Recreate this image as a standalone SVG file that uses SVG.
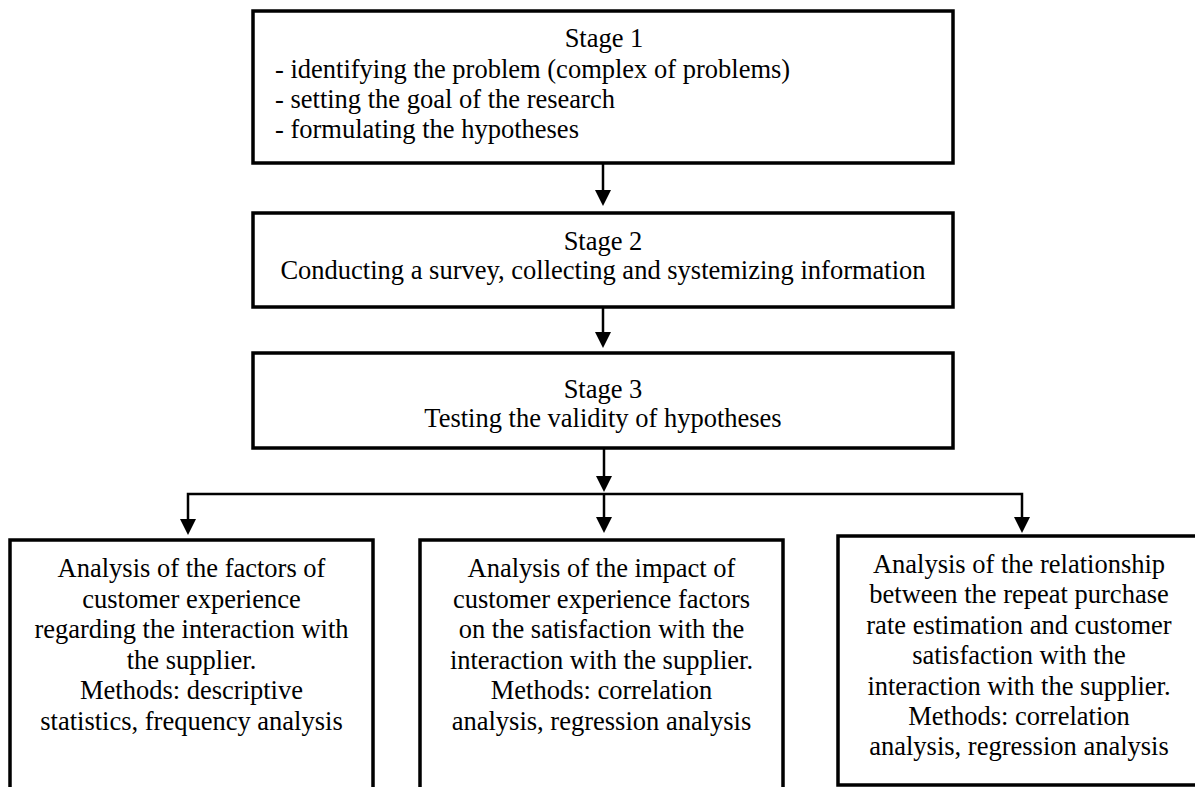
<svg xmlns="http://www.w3.org/2000/svg" width="1195" height="787" viewBox="0 0 1195 787">
<style>
.box{fill:#fff;stroke:#000;stroke-width:3.5}
.t{font-family:"Liberation Serif","Times New Roman",serif;font-size:26.5px;fill:#000}
.c{text-anchor:middle}
.ln{fill:none;stroke:#000;stroke-width:2.5}
.ah{fill:#000}
</style>
<g id="connectors">
<line class="ln" x1="603" y1="164" x2="603" y2="200"/>
<path class="ah" d="M595,190 L611,190 L603,206 Z"/>
<line class="ln" x1="603" y1="308" x2="603" y2="342"/>
<path class="ah" d="M595,332 L611,332 L603,348 Z"/>
<line class="ln" x1="604" y1="449" x2="604" y2="486"/>
<path class="ah" d="M596,476 L612,476 L604,492 Z"/>
<polyline class="ln" points="188,527 188,494 1022,494 1022,527"/>
<line class="ln" x1="604" y1="494" x2="604" y2="527"/>
<path class="ah" d="M180,519 L196,519 L188,535 Z"/>
<path class="ah" d="M596,517 L612,517 L604,533 Z"/>
<path class="ah" d="M1014,517 L1030,517 L1022,533 Z"/>
</g>
<g id="stage1">
<rect class="box" x="253" y="11" width="700" height="152"/>
<text class="t c" x="604" y="47">Stage 1</text>
<text class="t" x="275" y="77.5">- identifying the problem (complex of problems)</text>
<text class="t" x="275" y="108">- setting the goal of the research</text>
<text class="t" x="275" y="138">- formulating the hypotheses</text>
</g>
<g id="stage2">
<rect class="box" x="253" y="213" width="700" height="94"/>
<text class="t c" x="603" y="250">Stage 2</text>
<text class="t c" x="603" y="279">Conducting a survey, collecting and systemizing information</text>
</g>
<g id="stage3">
<rect class="box" x="253" y="353" width="700" height="95"/>
<text class="t c" x="603" y="398">Stage 3</text>
<text class="t c" x="603" y="427">Testing the validity of hypotheses</text>
</g>
<g id="analysis1">
<rect class="box" x="10" y="540" width="363" height="270"/>
<text class="t c" x="191.5" y="577">Analysis of the factors of</text>
<text class="t c" x="191.5" y="607.5">customer experience</text>
<text class="t c" x="191.5" y="638">regarding the interaction with</text>
<text class="t c" x="191.5" y="668.5">the supplier.</text>
<text class="t c" x="191.5" y="699">Methods: descriptive</text>
<text class="t c" x="191.5" y="729.5">statistics, frequency analysis</text>
</g>
<g id="analysis2">
<rect class="box" x="420" y="540" width="363" height="270"/>
<text class="t c" x="601.5" y="577">Analysis of the impact of</text>
<text class="t c" x="601.5" y="607.5">customer experience factors</text>
<text class="t c" x="601.5" y="638">on the satisfaction with the</text>
<text class="t c" x="601.5" y="668.5">interaction with the supplier.</text>
<text class="t c" x="601.5" y="699">Methods: correlation</text>
<text class="t c" x="601.5" y="729.5">analysis, regression analysis</text>
</g>
<g id="analysis3">
<rect class="box" x="838" y="536" width="362" height="249"/>
<text class="t c" x="1019" y="573">Analysis of the relationship</text>
<text class="t c" x="1019" y="603.4">between the repeat purchase</text>
<text class="t c" x="1019" y="633.8">rate estimation and customer</text>
<text class="t c" x="1019" y="664.2">satisfaction with the</text>
<text class="t c" x="1019" y="694.6">interaction with the supplier.</text>
<text class="t c" x="1019" y="725">Methods: correlation</text>
<text class="t c" x="1019" y="755.4">analysis, regression analysis</text>
</g>
</svg>
